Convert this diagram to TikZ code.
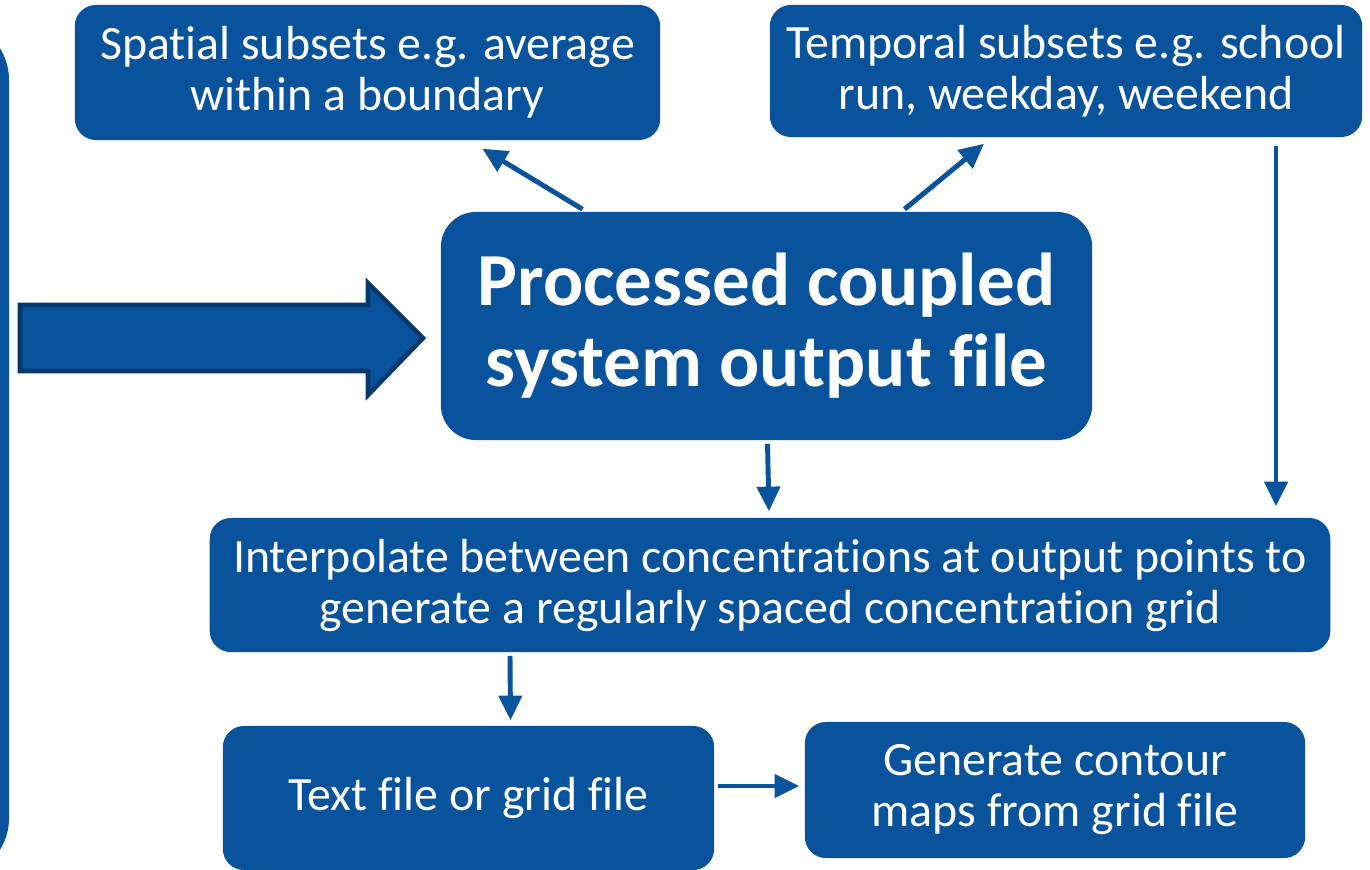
\documentclass[tikz,border=0pt]{standalone}
\usepackage{fontspec}
\setmainfont[Ligatures=NoCommon]{Carlito}
\usetikzlibrary{arrows.meta,calc}
\definecolor{boxblue}{HTML}{08539B}
\definecolor{edgeblue}{HTML}{05396C}

\begin{document}
\begin{tikzpicture}[x=0.01cm,y=-0.01cm,
            box/.style={fill=boxblue,text=white,rounded corners=6pt,align=center,
              inner sep=0pt,font=\fontsize{13.6}{14.5}\selectfont},
            >={Triangle[length=7pt,width=6.5pt]},
            flow/.style={->,draw=boxblue,line width=1.4pt}]
            \useasboundingbox (0,0) rectangle (1370,869);
            \clip (0,0) rectangle (1370,869);
            % edge of the box on the left
            \fill[boxblue,rounded corners=17pt](-400,20)rectangle(9,878);
            \draw[fill=boxblue,draw=edgeblue,line width=1.3pt](20,305)--(368,305)--(368,283)
              --(423,338)--(368,395)--(368,371)--(20,371)--cycle;
            \node[box,minimum width=5.85cm,minimum height=1.35cm](spatial)at(367.5,72.5)
              {Spatial subsets e.g. average\\within a boundary};
            \node[box,minimum width=5.92cm,minimum height=1.32cm](temporal)at(1066,71)
              {Temporal subsets e.g. school\\run, weekday, weekend};
            \node[box,rounded corners=10pt,minimum width=6.51cm,minimum height=2.28cm,
              font=\bfseries\fontsize{21.3}{23}\selectfont](processed)at(766.5,326)
              {Processed coupled\\system output file};
            \node[box,minimum width=11.2cm,minimum height=1.34cm](interp)at(770,585)
              {Interpolate between concentrations at output points to\\generate a regularly spaced concentration grid};
            \node[box,minimum width=4.91cm,minimum height=1.44cm](textfile)at(468.5,798)
              {Text file or grid file};
            \node[box,minimum width=5cm,minimum height=1.36cm](contour)at(1055,790)
              {Generate contour\\maps from grid file};
            \draw[flow]($(processed.north)+(-184,-2)$)--($(spatial.south)+(115,8)$);
            \draw[flow]($(processed.north)+(138,-2)$)--($(temporal.south)+(-82,6)$);
            \draw[flow]($(processed.south)+(1,3)$)--($(interp.north)+(-1,-6)$);
            \draw[flow]($(temporal.south)+(210,8)$)--($(interp.north)+(506,-11)$);
            \draw[flow]($(interp.south)+(-260,3)$)--($(textfile.north)+(42,-5)$);
            \draw[flow]($(textfile.east)+(3,-12)$)--($(contour.west)+(-5,-4)$);
        \end{tikzpicture}
\end{document}
